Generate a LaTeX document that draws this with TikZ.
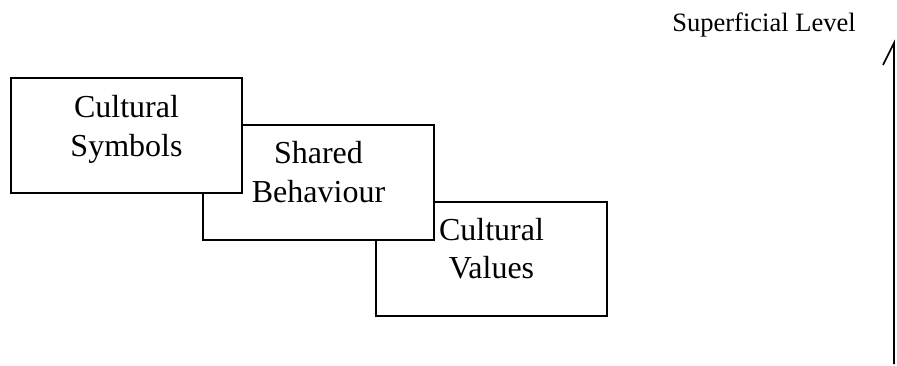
\documentclass[tikz,border=0pt]{standalone}
\usepackage{fontspec}
\setmainfont{Liberation Serif}
\begin{document}
\begin{tikzpicture}[x=1pt,y=-1pt,
  layerbox/.style={draw=black, line width=1.6pt, fill=white},
  boxtext/.style={font=\fontsize{32}{39}\selectfont, align=center, anchor=base, inner sep=0pt},
  leveltext/.style={font=\fontsize{26.5}{32}\selectfont, anchor=base, inner sep=0pt}]
\useasboundingbox (0,0) rectangle (897,366);
% Cultural Values (bottom layer)
\draw[layerbox] (376,202) rectangle (607,316);
\node[boxtext] (t3) at (491.5,279) {Cultural\\Values};
% Shared Behaviour
\draw[layerbox] (203,125) rectangle (434,240);
\node[boxtext] (t2) at (318.5,203) {Shared\\Behaviour};
% Cultural Symbols (top layer)
\draw[layerbox] (11,78) rectangle (242,193);
\node[boxtext] (t1) at (126.5,157) {Cultural\\Symbols};
% level axis
\node[leveltext] (lvl) at (764,32) {Superficial Level};
\coordinate (axbot) at (894,364);
\coordinate (axtop) at (894,43);
\coordinate (barb) at (883,65);
\draw[line width=1.6pt] (axbot) -- (axtop) -- (barb);
\end{tikzpicture}
\end{document}
